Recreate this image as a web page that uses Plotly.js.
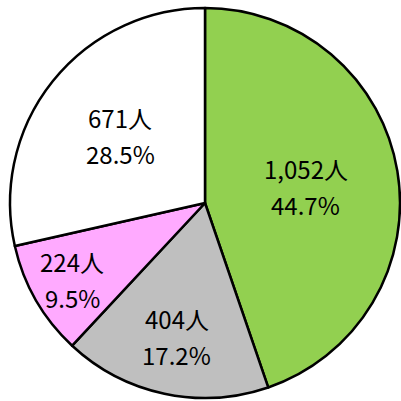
<!DOCTYPE html>
<html><head><meta charset="utf-8">
<script src="https://cdn.plot.ly/plotly-3.0.1.min.js"></script>
<style>html,body{margin:0;padding:0;background:#fff}</style>
</head><body><div id="chart" style="width:401px;height:401px"></div>
<script>
const categories = ["A", "B", "C", "D"];
const counts = [1052, 404, 224, 671];
const countLabels = ["1,052人", "404人", "224人", "671人"];
const percentLabels = ["44.7%", "17.2%", "9.5%", "28.5%"];
const colors = ["#92d050", "#bfbfbf", "#ffaaff", "#ffffff"];

// style: radial position of each label as a fraction of the radius
const labelRadius = [0.525, 0.70, 0.785, 0.555];

const W = 401, H = 401;
const dom = {x: [0.025, 0.9975], y: [0.0075, 0.98]};

const trace = {
  type: "pie",
  labels: categories,
  values: counts,
  sort: false,
  direction: "clockwise",
  rotation: 0,
  textinfo: "none",
  marker: {colors: colors, line: {color: "#000", width: 2.5}},
  domain: dom,
  hoverinfo: "none"
};

// label placement from the slice angles
const cx = (dom.x[0] + dom.x[1]) / 2 * W;
const cy = (1 - (dom.y[0] + dom.y[1]) / 2) * H;
const R = Math.min((dom.x[1] - dom.x[0]) * W, (dom.y[1] - dom.y[0]) * H) / 2;
const total = counts.reduce((a, b) => a + b, 0);
const annotations = [];
let cum = 0;
counts.forEach((v, i) => {
  const th = 2 * Math.PI * (cum + v / 2) / total;
  cum += v;
  const px = cx + labelRadius[i] * R * Math.sin(th);
  const py = cy - labelRadius[i] * R * Math.cos(th);
  const base = {xref: "paper", yref: "paper", x: px / W, y: 1 - py / H,
    xanchor: "center", yanchor: "middle", showarrow: false,
    font: {family: "Noto Sans CJK JP", size: 24, color: "#000"}};
  annotations.push(Object.assign({}, base, {text: countLabels[i], yshift: 18}));
  annotations.push(Object.assign({}, base, {text: percentLabels[i], yshift: -18}));
});

Plotly.newPlot("chart", [trace], {
  width: W, height: H,
  margin: {l: 0, r: 0, t: 0, b: 0},
  showlegend: false,
  paper_bgcolor: "#fff",
  annotations: annotations
}, {displayModeBar: false, staticPlot: true});
</script></body></html>
